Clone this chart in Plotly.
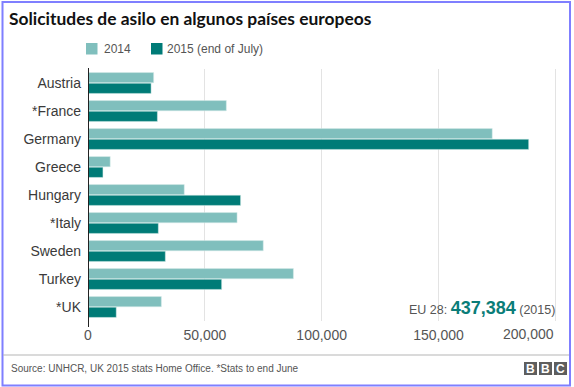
import plotly.graph_objects as go

countries = ["Austria", "*France", "Germany", "Greece", "Hungary", "*Italy", "Sweden", "Turkey", "*UK"]
values_2014 = [28100, 59200, 173000, 9500, 41200, 63800, 75000, 87900, 31400]
values_2015 = [27000, 29700, 188600, 6400, 65300, 30100, 33100, 57200, 12100]
series_names = ["2014", "2015 (end of July)"]
tick_values = [0, 50000, 100000, 150000, 200000]
tick_labels = ["0", "50,000", "100,000", "150,000", "200,000"]
title_text = "Solicitudes de asilo en algunos países europeos"
source_text = "Source: UNHCR, UK 2015 stats Home Office. *Stats to end June"
eu_total = "437,384"

W, H = 574, 387
ML, MR, MT, MB = 88, 14, 69, 66
PW = W - ML - MR
PH = H - MT - MB

def px(x):
    return (x - ML) / PW

def py(y):
    return (H - MB - y) / PH

C14 = "#80bfbd"
C15 = "#007b77"
FONT = "Liberation Sans, Arial, sans-serif"

fig = go.Figure()
fig.add_trace(go.Bar(y=countries, x=values_2014, name=series_names[0], orientation="h",
                     marker=dict(color=C14, line=dict(color="#d8ecea", width=0.5)), showlegend=False))
fig.add_trace(go.Bar(y=countries, x=values_2015, name=series_names[1], orientation="h",
                     marker=dict(color=C15, line=dict(color="#d8ecea", width=0.5)), showlegend=False))

shapes = []
shapes.append(dict(type="rect", xref="paper", yref="paper", x0=px(2.5), x1=px(570), y0=py(385.5), y1=py(2),
                   line=dict(color="#7f7fff", width=2), fillcolor="rgba(0,0,0,0)", layer="above"))
shapes.append(dict(type="line", xref="paper", yref="paper", x0=px(3), x1=px(569), y0=py(355), y1=py(355),
                   line=dict(color="#b5b5b5", width=1)))
shapes.append(dict(type="line", xref="x", yref="paper", x0=0, x1=0, y0=py(327), y1=py(68),
                   line=dict(color="#222222", width=2), layer="above"))
shapes.append(dict(type="rect", xref="paper", yref="paper", x0=px(86), x1=px(97.5), y0=py(54.5), y1=py(43),
                   fillcolor=C14, line=dict(width=0)))
shapes.append(dict(type="rect", xref="paper", yref="paper", x0=px(151), x1=px(162.5), y0=py(54.5), y1=py(43),
                   fillcolor=C15, line=dict(width=0)))
for x0 in (524, 539, 554):
    shapes.append(dict(type="rect", xref="paper", yref="paper", x0=px(x0), x1=px(x0 + 13), y0=py(375), y1=py(362),
                       fillcolor="#5e5e5e", line=dict(width=0)))

annotations = [
    dict(text="<b>" + title_text + "</b>", xref="paper", yref="paper", x=px(7), y=py(18), xanchor="left",
         yanchor="middle", showarrow=False, font=dict(family="Lato, sans-serif", size=17.4, color="#111111")),
    dict(text=series_names[0], xref="paper", yref="paper", x=px(102), y=py(48.5), xanchor="left",
         yanchor="middle", showarrow=False, font=dict(family=FONT, size=12, color="#555555")),
    dict(text=series_names[1], xref="paper", yref="paper", x=px(165), y=py(48.5), xanchor="left",
         yanchor="middle", showarrow=False, font=dict(family=FONT, size=12, color="#555555")),
    dict(text="EU 28: <b><span style='font-size:18px;color:#0a7d78'>" + eu_total + "</span></b> (2015)",
         xref="paper", yref="paper", x=px(557), y=py(308), xanchor="right", yanchor="middle",
         showarrow=False, font=dict(family=FONT, size=12.5, color="#555555")),
    dict(text=source_text, xref="paper", yref="paper", x=px(9), y=py(368.5), xanchor="left",
         yanchor="middle", showarrow=False, font=dict(family=FONT, size=10, color="#555555")),
    dict(text=tick_labels[-1], xref="x", yref="paper", x=tick_values[-1], y=py(334), xanchor="right",
         yanchor="middle", showarrow=False, xshift=1, font=dict(family=FONT, size=14, color="#555555")),
]
for x0, ch in zip((524, 539, 554), "BBC"):
    annotations.append(dict(text="<b>" + ch + "</b>", xref="paper", yref="paper", x=px(x0 + 6.5), y=py(368.5),
                            xanchor="center", yanchor="middle", showarrow=False,
                            font=dict(family=FONT, size=12, color="#ffffff")))

fig.update_layout(
    width=W, height=H,
    margin=dict(l=ML, r=MR, t=MT, b=MB, autoexpand=False),
    paper_bgcolor="white", plot_bgcolor="white",
    barmode="group", bargap=0.24, bargroupgap=0.04,
    shapes=shapes, annotations=annotations,
    showlegend=False,
    font=dict(family=FONT),
)
fig.update_xaxes(range=[0, 202000], tickvals=tick_values, ticktext=tick_labels[:-1] + [""],
                 showgrid=True, gridcolor="#e3e3e3", gridwidth=1, zeroline=False, automargin=False,
                 tickfont=dict(size=14, color="#555555"), ticks="", ticklabelstandoff=4)
fig.update_yaxes(autorange="reversed", showgrid=False, zeroline=False, showline=False, automargin=False,
                 tickfont=dict(size=14, color="#3a3a3a"), ticks="", ticklabelstandoff=6)

fig.write_html("out.html", config={"displayModeBar": False},
               post_script="document.body.style.margin='0';document.body.style.padding='0';")
